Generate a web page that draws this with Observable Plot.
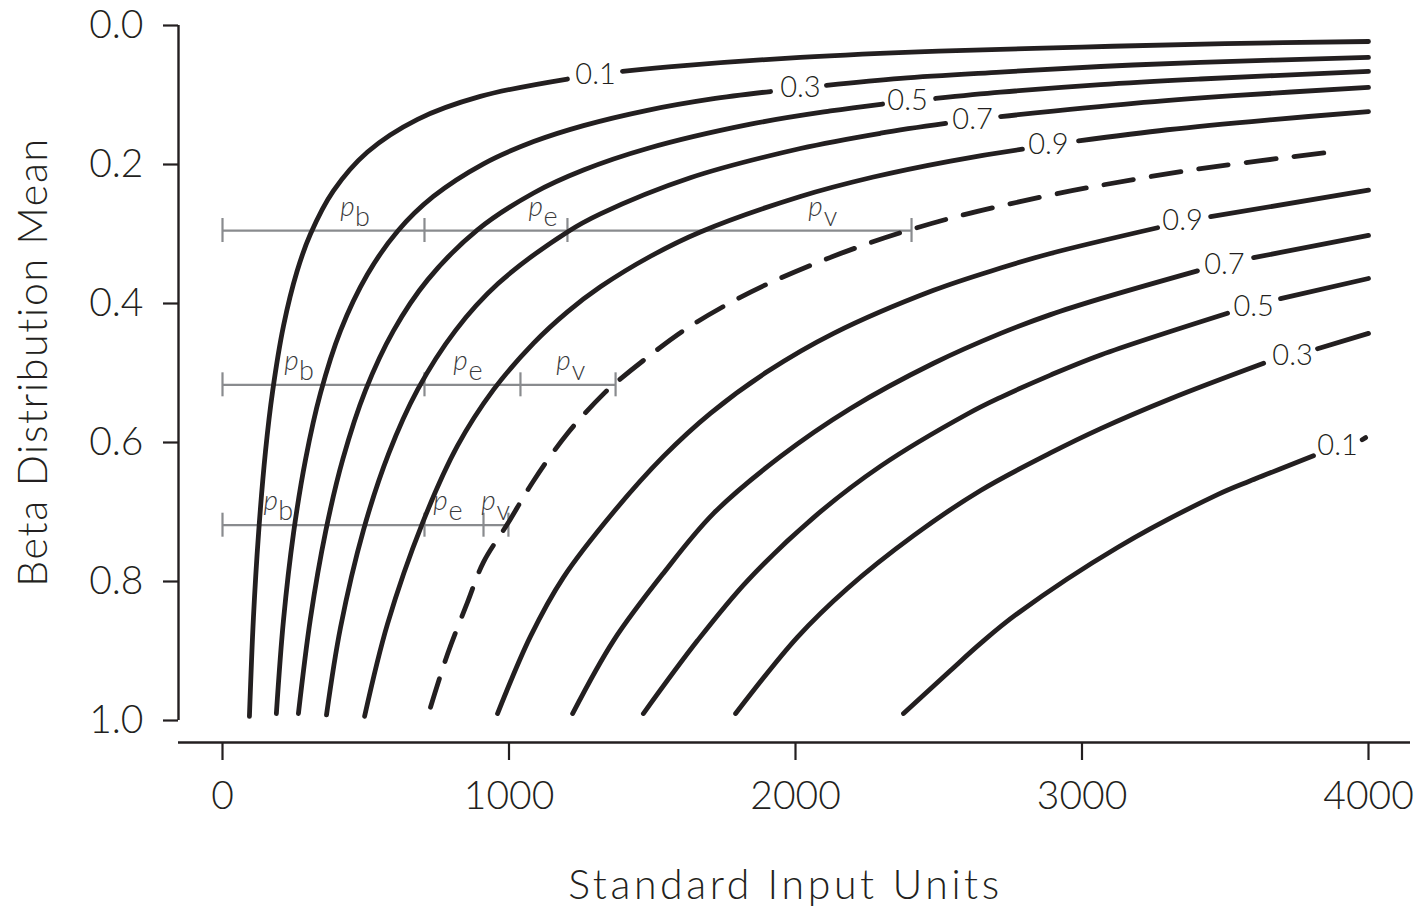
<!DOCTYPE html>
<html>
<head>
<meta charset="utf-8">
<script src="https://cdn.jsdelivr.net/npm/d3@7"></script>
<script src="https://cdn.jsdelivr.net/npm/@observablehq/plot@0.6"></script>
<style>
  html, body { margin: 0; padding: 0; background: #ffffff; }
  #chart svg { display: block; }
</style>
</head>
<body>
<div id="chart"></div>
<script>
// ---------- data ----------
const xTicks = [0, 1000, 2000, 3000, 4000];
const yTicks = [0, 0.2, 0.4, 0.6, 0.8, 1.0];
const xTitle = "Standard Input Units";
const yTitle = "Beta Distribution Mean";

// left family (labels near the top)
const left01 = [[94,0.994],[108,0.852],[126,0.730],[150,0.613],[175,0.526],[213,0.432],[260,0.354],[307,0.300],[387,0.238],[506,0.182],[681,0.135],[900,0.102],[1204,0.077],[1396,0.066],[1600,0.058],[2017,0.046],[2500,0.037],[3000,0.031],[3500,0.026],[4000,0.023]];
const left03 = [[188,0.990],[213,0.855],[248,0.730],[290,0.624],[342,0.529],[412,0.439],[506,0.358],[611,0.296],[736,0.246],[911,0.199],[1086,0.167],[1260,0.144],[1483,0.122],[1703,0.106],[1913,0.095],[2108,0.086],[2367,0.076],[2716,0.067],[3065,0.059],[3414,0.053],[4000,0.046]];
const left05 = [[265,0.990],[307,0.853],[360,0.728],[420,0.624],[499,0.525],[597,0.439],[716,0.366],[890,0.294],[1086,0.241],[1260,0.208],[1483,0.177],[1843,0.142],[2122,0.123],[2304,0.113],[2489,0.105],[2716,0.096],[3065,0.085],[3414,0.077],[4000,0.066]];
const left07 = [[363,0.992],[412,0.866],[492,0.726],[580,0.616],[681,0.524],[813,0.439],[963,0.371],[1204,0.297],[1319,0.271],[1633,0.219],[2017,0.177],[2297,0.155],[2524,0.141],[2716,0.131],[3180,0.112],[3529,0.101],[4000,0.089]];
const left09 = [[496,0.994],[576,0.861],[698,0.716],[820,0.605],[946,0.524],[1086,0.457],[1204,0.412],[1319,0.376],[1494,0.332],[1668,0.297],[2017,0.246],[2272,0.218],[2541,0.195],[2792,0.178],[2988,0.166],[3298,0.150],[3647,0.136],[4000,0.124]];

// dashed middle curve
const middleDashed = [[726,0.981],[785,0.905],[855,0.830],[911,0.772],[995,0.717],[1086,0.655],[1204,0.587],[1330,0.530],[1379,0.512],[1469,0.482],[1609,0.439],[1763,0.401],[1902,0.372],[2077,0.341],[2251,0.314],[2408,0.293],[2600,0.271],[2890,0.244],[3065,0.230],[3414,0.206],[3892,0.181]];

// right family (labels at the right)
const right09 = [[960,0.990],[1075,0.879],[1190,0.794],[1365,0.700],[1539,0.620],[1703,0.558],[1902,0.498],[2133,0.443],[2482,0.381],[2716,0.349],[2890,0.328],[3264,0.291],[3449,0.275],[4000,0.237]];
const right07 = [[1222,0.990],[1365,0.885],[1539,0.788],[1714,0.702],[1948,0.620],[2192,0.551],[2482,0.486],[2716,0.443],[2890,0.416],[3065,0.393],[3403,0.353],[3599,0.334],[4000,0.302]];
const right05 = [[1469,0.990],[1658,0.885],[1832,0.799],[2063,0.708],[2297,0.634],[2600,0.559],[2716,0.535],[2890,0.503],[3065,0.474],[3508,0.414],[3693,0.393],[4000,0.364]];
const right03 = [[1791,0.990],[2007,0.880],[2181,0.810],[2412,0.734],[2646,0.669],[2890,0.615],[3065,0.580],[3309,0.537],[3634,0.486],[3822,0.465],[4000,0.443]];
const right01 = [[2377,0.990],[2541,0.928],[2646,0.889],[2775,0.846],[3124,0.751],[3473,0.675],[3588,0.655],[3808,0.619],[3978,0.596],[3990,0.593]];

// curve labels: text, position, and where each curve breaks around its label
const labelCurve = ["left01","left03","left05","left07","left09","right09","right07","right05","right03","right01"];
const labelText  = ["0.1","0.3","0.5","0.7","0.9","0.9","0.7","0.5","0.3","0.1"];
const labelX     = [1302, 2017, 2391, 2618, 2883, 3351, 3497, 3599, 3735, 3892];
const labelY     = [0.071, 0.090, 0.108, 0.136, 0.171, 0.281, 0.344, 0.404, 0.475, 0.604];
const gapFrom    = [1204, 1913, 2304, 2524, 2792, 3264, 3403, 3508, 3634, 3808];
const gapTo      = [1396, 2108, 2489, 2716, 2988, 3449, 3599, 3693, 3822, 3978];

// grey partition bars
const barY = [0.295, 0.517, 0.719];
const barBreaks = [[0, 705, 1204, 2405], [0, 705, 1040, 1372], [0, 705, 911, 998]];
const barLabelX = [[436, 1093, 2070], [241, 831, 1190], [168, 761, 928]];
const barSubs = ["b", "e", "v"];

// ---------- build tables ----------
const solidSets = {left01, left03, left05, left07, left09, right09, right07, right05, right03, right01};
const solidRows = Object.entries(solidSets).flatMap(([name, pts]) => {
  const k = labelCurve.indexOf(name);
  const rows = [];
  pts.forEach(([x, y], i) => {
    rows.push({curve: name, x, y});
    const next = pts[i + 1];
    if (k >= 0 && next && x === gapFrom[k] && next[0] === gapTo[k]) {
      rows.push({curve: name, x: (x + next[0]) / 2, y: NaN}); // break the line for the label
    }
  });
  return rows;
});
const dashedRows = middleDashed.map(([x, y]) => ({x, y}));
const labelRows = labelText.map((t, i) => ({text: t, x: labelX[i], y: labelY[i]}));
const barRows = barY.map((y, i) => ({y, x1: barBreaks[i][0], x2: barBreaks[i][barBreaks[i].length - 1]}));
const barTickRows = barY.flatMap((y, i) => barBreaks[i].map(x => ({x, y})));
const barLabelRows = barY.flatMap((y, i) => barLabelX[i].map((x, j) => ({x, y, sub: barSubs[j]})));

const ink = "#231f20";
const grey = "#898b8e";
const font = "Lato, 'Open Sans', 'DejaVu Sans', sans-serif";

const chart = Plot.plot({
  width: 1421,
  height: 910,
  marginLeft: 178,
  marginRight: 11,
  marginTop: 25,
  marginBottom: 168,
  x: {domain: [0, 4000], range: [222, 1368]},
  y: {domain: [0, 1], range: [25, 720]},
  style: {fontFamily: font, fontWeight: 300, color: ink, background: "#ffffff"},
  marks: [
    // axis lines
    Plot.ruleY([1], {dy: 22, stroke: ink, strokeWidth: 2.4}),
    Plot.ruleX([0], {y1: 0, y2: 1, dx: -44, stroke: ink, strokeWidth: 2.4}),
    Plot.axisX({ticks: xTicks, tickFormat: d3.format("d"), tickSize: 18, tickPadding: 21, fontSize: 39, label: null, strokeWidth: 2.2, stroke: ink}),
    Plot.axisY({ticks: yTicks, tickFormat: d3.format(".1f"), tickSize: 15, tickPadding: 20, fontSize: 39, label: null, strokeWidth: 2.2, stroke: ink}),
    // grey bars
    Plot.ruleY(barRows, {y: "y", x1: "x1", x2: "x2", stroke: grey, strokeWidth: 2.2}),
    Plot.ruleX(barTickRows, {x: "x", y1: "y", y2: "y", insetTop: -12, insetBottom: -12, stroke: grey, strokeWidth: 2.2}),
    // curves
    Plot.line(solidRows, {x: "x", y: "y", z: "curve", curve: "catmull-rom", stroke: ink, strokeWidth: 4.8, strokeLinecap: "round", strokeLinejoin: "round"}),
    Plot.line(dashedRows, {x: "x", y: "y", curve: "catmull-rom", stroke: ink, strokeWidth: 4.8, strokeLinecap: "round", strokeDasharray: "30,18"}),
    // curve labels
    Plot.text(labelRows, {x: "x", y: "y", text: "text", fontSize: 29, fill: ink, textAnchor: "middle", lineAnchor: "middle"}),
    // bar labels p_b, p_e, p_v
    Plot.text(barLabelRows, {x: "x", y: "y", text: () => "p", fontStyle: "italic", fontSize: 28, fill: "#3a3a3c", textAnchor: "middle", lineAnchor: "bottom", dy: -15}),
    Plot.text(barLabelRows, {x: "x", y: "y", text: "sub", fontSize: 27, fill: "#3a3a3c", textAnchor: "middle", lineAnchor: "bottom", dx: 15, dy: -5}),
    // axis titles
    Plot.text([xTitle], {frameAnchor: "bottom", dy: 143, dx: -9, fontSize: 41, fill: ink, textAnchor: "middle", lineAnchor: "middle"}),
    Plot.text([yTitle], {frameAnchor: "left", rotate: -90, dx: -145, dy: -22, fontSize: 41, fill: ink, textAnchor: "middle", lineAnchor: "middle"})
  ]
});
// widen the letter spacing of the two axis titles (the reference face is wider than Lato)
d3.select(chart).selectAll("text")
  .filter(function () { return this.textContent === xTitle; })
  .style("letter-spacing", "3.6px");
d3.select(chart).selectAll("text")
  .filter(function () { return this.textContent === yTitle; })
  .style("letter-spacing", "1.7px");
document.getElementById("chart").appendChild(chart);
</script>
</body>
</html>
